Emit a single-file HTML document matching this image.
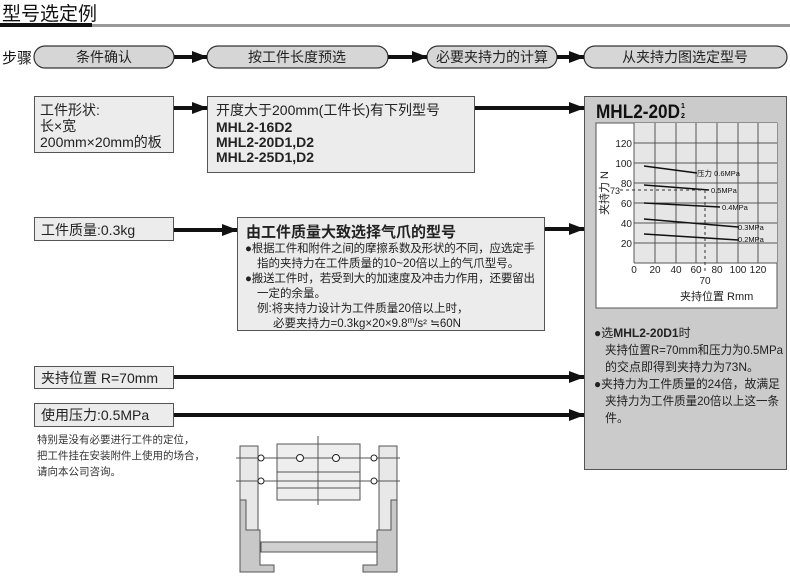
<!DOCTYPE html>
<html><head><meta charset="utf-8"><style>
body{margin:0;background:#fff;}
svg text{font-family:"Liberation Sans","Noto Sans CJK SC",sans-serif;}
</style></head><body>
<svg width="790" height="574" viewBox="0 0 790 574" xmlns="http://www.w3.org/2000/svg">
<defs>
<marker id="ah" markerWidth="16" markerHeight="12" refX="15" refY="6" orient="auto" markerUnits="userSpaceOnUse"><path d="M0,0 L16,6 L0,12 Z" fill="#111"/></marker>
</defs>
<!-- title -->
<text x="2" y="20" font-size="19" fill="#111">型号选定例</text>
<rect x="0" y="23" width="92" height="4" fill="#111"/>
<rect x="92" y="24" width="698" height="3" fill="#999"/>
<!-- steps -->
<text x="2" y="63" font-size="15" fill="#111">步骤</text>
<g fill="#d6d6d6" stroke="#333" stroke-width="1.2">
<rect x="34" y="46" width="140" height="22" rx="11"/>
<rect x="207" y="46" width="181" height="22" rx="11"/>
<rect x="427" y="46" width="130" height="22" rx="11"/>
<rect x="584" y="46" width="203" height="22" rx="11"/>
</g>
<g font-size="14" fill="#222" text-anchor="middle">
<text x="104" y="62">条件确认</text>
<text x="297" y="62">按工件长度预选</text>
<text x="492" y="62">必要夹持力的计算</text>
<text x="685" y="62">从夹持力图选定型号</text>
</g>
<g stroke="#111" stroke-width="4" marker-end="url(#ah)">
<line x1="174" y1="57" x2="207" y2="57"/>
<line x1="388" y1="57" x2="427" y2="57"/>
<line x1="557" y1="57" x2="584" y2="57"/>
<line x1="174" y1="108" x2="207" y2="108"/>
<line x1="475" y1="108" x2="584" y2="108"/>
<line x1="174" y1="230" x2="237" y2="230"/>
<line x1="545" y1="229" x2="584" y2="229"/>
<line x1="174" y1="377" x2="584" y2="377"/>
<line x1="174" y1="415" x2="584" y2="415"/>
</g>
<!-- boxes -->
<g fill="#ececec" stroke="#555" stroke-width="1">
<rect x="34.5" y="96.5" width="139" height="56"/>
<rect x="207.5" y="96.5" width="267" height="76"/>
<rect x="34.5" y="217.5" width="139" height="23"/>
<rect x="237.5" y="217.5" width="307" height="113"/>
<rect x="34.5" y="366.5" width="139" height="22"/>
<rect x="34.5" y="403.5" width="139" height="23"/>
</g>
<g font-size="14" fill="#222">
<text x="40" y="115">工件形状:</text>
<text x="40" y="131">长×宽</text>
<text x="40" y="147">200mm×20mm的板</text>
<text x="216" y="115">开度大于200mm(工件长)有下列型号</text>
<text x="216" y="132" font-weight="bold">MHL2-16D2</text>
<text x="216" y="147" font-weight="bold">MHL2-20D1,D2</text>
<text x="216" y="162" font-weight="bold">MHL2-25D1,D2</text>
<text x="41" y="235">工件质量:0.3kg</text>
<text x="41" y="383">夹持位置 R=70mm</text>
<text x="41" y="420">使用压力:0.5MPa</text>
<text x="246" y="237" font-size="15" font-weight="bold">由工件质量大致选择气爪的型号</text>
</g>
<g font-size="11.5" fill="#222">
<text x="245" y="252" textLength="290">●根据工件和附件之间的摩擦系数及形状的不同，应选定手</text>
<text x="257" y="267">指的夹持力在工件质量的10~20倍以上的气爪型号。</text>
<text x="245" y="282" textLength="290">●搬送工件时，若受到大的加速度及冲击力作用，还要留出</text>
<text x="257" y="297">一定的余量。</text>
<text x="257" y="312">例:将夹持力设计为工件质量20倍以上时，</text>
<text x="273" y="327">必要夹持力=0.3kg×20×9.8<tspan font-size="8" dy="-4">m</tspan><tspan dy="4">/s² ≒60N</tspan></text>
</g>
<g font-size="10.5" fill="#333">
<text x="37" y="443">特别是没有必要进行工件的定位，</text>
<text x="37" y="459">把工件挂在安装附件上使用的场合，</text>
<text x="37" y="475">请向本公司咨询。</text>
</g>
<!-- right box -->
<rect x="584.5" y="96.5" width="202" height="373" fill="#cbcbcb" stroke="#555"/>
<text x="596" y="118" font-size="19" font-weight="bold" fill="#111" textLength="84" lengthAdjust="spacingAndGlyphs">MHL2-20D</text>
<text x="681" y="108" font-size="7" font-weight="bold">1</text>
<text x="681" y="118" font-size="7" font-weight="bold">2</text>
<rect x="596" y="123" width="181" height="185" fill="#fff" stroke="#555"/>
<rect x="634" y="123" width="143" height="140" fill="#e6e6e6"/>
<g stroke="#555" stroke-width="1">
<line x1="634" y1="123" x2="634" y2="263"/><line x1="655" y1="123" x2="655" y2="263"/><line x1="676" y1="123" x2="676" y2="263"/><line x1="696" y1="123" x2="696" y2="263"/><line x1="717" y1="123" x2="717" y2="263"/><line x1="738" y1="123" x2="738" y2="263"/><line x1="758" y1="123" x2="758" y2="263"/>
<line x1="634" y1="143" x2="777" y2="143"/><line x1="634" y1="163" x2="777" y2="163"/><line x1="634" y1="183" x2="777" y2="183"/><line x1="634" y1="203" x2="777" y2="203"/><line x1="634" y1="223" x2="777" y2="223"/><line x1="634" y1="243" x2="777" y2="243"/><line x1="634" y1="263" x2="777" y2="263"/>
</g>
<g stroke="#111" stroke-width="1.6">
<line x1="644" y1="166" x2="697" y2="173"/>
<line x1="644" y1="185" x2="709" y2="190"/>
<line x1="644" y1="203" x2="720" y2="207"/>
<line x1="644" y1="219" x2="738" y2="227"/>
<line x1="644" y1="234" x2="738" y2="240"/>
</g>
<g stroke="#333" stroke-dasharray="3,3" fill="none"><line x1="620" y1="190" x2="705" y2="190"/><line x1="705" y1="190" x2="705" y2="272"/></g>
<g font-size="7.5" fill="#111">
<text x="697" y="176">压力 0.6MPa</text>
<text x="711" y="193">0.5MPa</text>
<text x="722" y="210">0.4MPa</text>
<text x="738" y="230">0.3MPa</text>
<text x="738" y="242">0.2MPa</text>
</g>
<g font-size="10" fill="#222" text-anchor="end">
<text x="632" y="147">120</text><text x="632" y="167">100</text><text x="632" y="187">80</text><text x="620" y="194" font-size="9">73</text><text x="632" y="207">60</text><text x="632" y="227">40</text><text x="632" y="247">20</text>
</g>
<g font-size="10" fill="#222" text-anchor="middle">
<text x="634" y="273">0</text><text x="655" y="273">20</text><text x="676" y="273">40</text><text x="696" y="273">60</text><text x="717" y="273">80</text><text x="738" y="273">100</text><text x="758" y="273">120</text><text x="705" y="284">70</text>
</g>
<text x="680" y="300" font-size="11" fill="#222">夹持位置 Rmm</text>
<text transform="translate(608,215) rotate(-90)" font-size="11" fill="#222">夹持力 N</text>
<g font-size="12" fill="#222">
<text x="594" y="337">●选<tspan font-weight="bold">MHL2-20D1</tspan>时</text>
<text x="605" y="354" textLength="178" lengthAdjust="spacingAndGlyphs">夹持位置R=70mm和压力为0.5MPa</text>
<text x="605" y="371">的交点即得到夹持力为73N。</text>
<text x="594" y="388" textLength="186" lengthAdjust="spacingAndGlyphs">●夹持力为工件质量的24倍，故满足</text>
<text x="605" y="405" textLength="174" lengthAdjust="spacingAndGlyphs">夹持力为工件质量20倍以上这一条</text>
<text x="605" y="422">件。</text>
</g>
<!-- drawing -->
<g stroke="#555" stroke-width="1" fill="#eee">
<rect x="240" y="446" width="18" height="100" fill="#e8e8e8"/>
<rect x="379" y="446" width="18" height="100" fill="#e8e8e8"/>
<rect x="277" y="444" width="83" height="56" fill="#eee"/>
<path d="M240,500 h6 v30 h14 v35 h14 v7 h-34 z" fill="#c8c8c8"/>
<path d="M397,500 h-6 v30 h-14 v35 h-14 v7 h34 z" fill="#c8c8c8"/>
<rect x="261" y="542" width="116" height="10" fill="#d0d0d0"/>
<line x1="277" y1="472" x2="360" y2="472"/><line x1="277" y1="488" x2="360" y2="488"/>
<line x1="318" y1="436" x2="318" y2="505"/>
<line x1="236" y1="458" x2="400" y2="458"/><line x1="236" y1="481" x2="400" y2="481"/>
<circle cx="300" cy="458" r="3.5" fill="#fff" stroke="#222"/><circle cx="336" cy="458" r="3.5" fill="#fff" stroke="#222"/>
<circle cx="261" cy="458" r="3" fill="#fff" stroke="#222"/><circle cx="374" cy="458" r="3" fill="#fff" stroke="#222"/>
<circle cx="261" cy="481" r="3" fill="#fff" stroke="#222"/><circle cx="374" cy="481" r="3" fill="#fff" stroke="#222"/>
</g>
</svg>
</body></html>
